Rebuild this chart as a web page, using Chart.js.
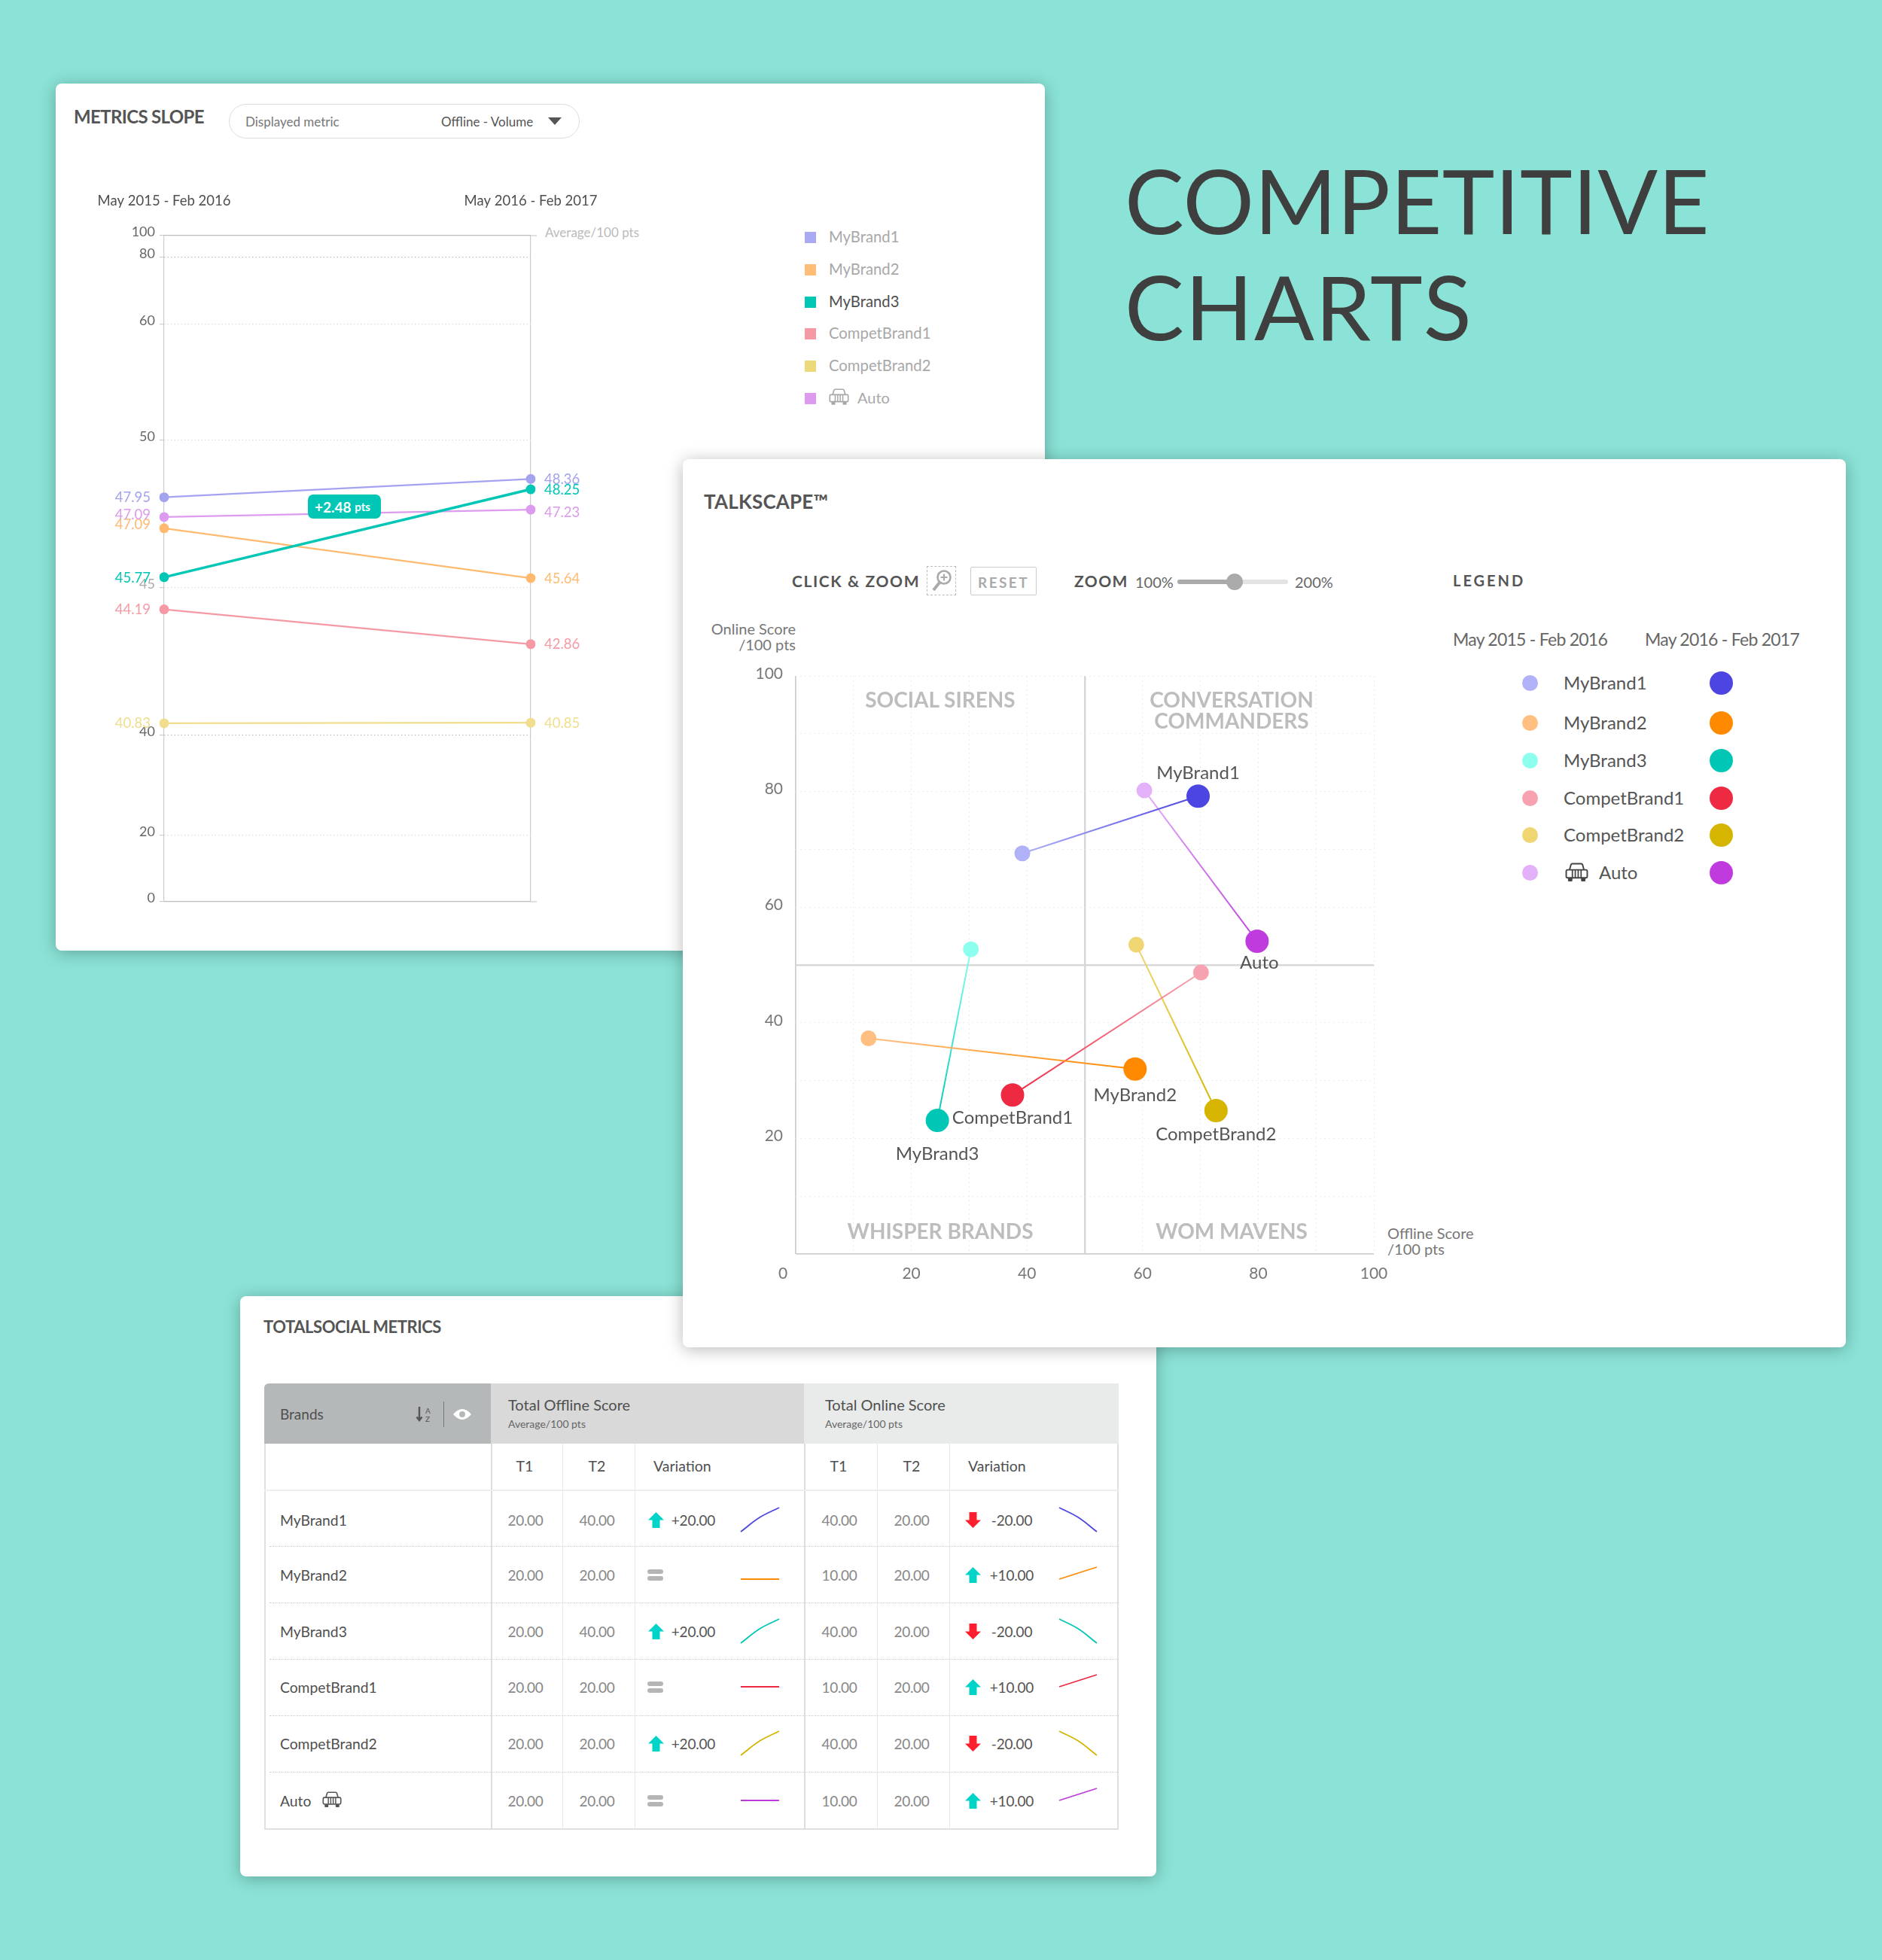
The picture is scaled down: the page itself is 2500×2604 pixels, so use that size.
<!DOCTYPE html>
<html><head><meta charset="utf-8">
<script src="https://cdn.jsdelivr.net/npm/chart.js@4"></script>
<style>
html,body{margin:0;padding:0;background:#8ae3d6;width:2500px;height:2604px;overflow:hidden;font-family:Lato,sans-serif}
#root{position:absolute;left:0;top:0;width:2500px;height:2604px}
.abs{position:absolute;white-space:nowrap;line-height:1}
.card{position:absolute;background:#fff;border-radius:8px;box-shadow:0 3px 22px rgba(0,0,0,.28)}
canvas{position:absolute;display:block}
</style></head><body><div id="root"></div>
<script>
// ---------- DATA ----------
const brands = ['MyBrand1','MyBrand2','MyBrand3','CompetBrand1','CompetBrand2','Auto'];
const periods = ['May 2015 - Feb 2016','May 2016 - Feb 2017'];
// Metrics slope: heights read on the axis, and the figures printed beside them
const slopeT1 = [48.07,47.02,45.36,44.27,40.41,47.40];
const slopeT2 = [48.69,45.33,48.34,43.09,40.43,47.65];
const slopeT1Text = ['47.95','47.09','45.77','44.19','40.83','47.09'];
const slopeT2Text = ['48.36','45.64','48.25','42.86','40.85','47.23'];
const slopeTicks = [100,80,60,50,45,40,20,0];
const slopeTickFractions = [1,0.9672,0.8667,0.6927,0.4712,0.2497,0.0994,0];
// Talkscape
const offlineT1 = [39.2,12.6,30.3,70.1,58.9,60.3];
const onlineT1  = [69.3,37.3,52.7,48.7,53.5,80.2];
const offlineT2 = [69.6,58.7,24.5,37.5,72.7,79.8];
const onlineT2  = [79.2,32.0,23.1,27.5,24.8,54.1];
// Table
const tableOfflineT1 = ['20.00','20.00','20.00','20.00','20.00','20.00'];
const tableOfflineT2 = ['40.00','20.00','40.00','20.00','20.00','20.00'];
const tableOfflineVar = ['+20.00','=','+20.00','=','+20.00','='];
const tableOnlineT1 = ['40.00','10.00','40.00','10.00','40.00','10.00'];
const tableOnlineT2 = ['20.00','20.00','20.00','20.00','20.00','20.00'];
const tableOnlineVar = ['-20.00','+10.00','-20.00','+10.00','-20.00','+10.00'];
const sparkOffline = [[20,32,40],[20,20,20],[20,32,40],[20,20,20],[20,32,40],[20,20,20]];
const sparkOnline  = [[40,32,20],[10,15,20],[40,32,20],[10,15,20],[40,32,20],[10,15,20]];

// ---------- STYLE ----------
const lightColors = ['#b1b1f7','#ffbf80','#8cffee','#f7a2b0','#efd672','#e3b0fa'];
const darkColors  = ['#4c45e2','#ff8a00','#00c7b5','#ee2a43','#d6b500','#bf3bdd'];
const slopeColors = ['#a3a3f0','#ffba70','#00c7b5','#f59aa4','#f0de8e','#dd9bef'];
const legendSquares = ['#a9a9f4','#ffbd78','#00c7b5','#f59aa4','#ecd97c','#dd9bef'];
const FONT = 'Lato, sans-serif';
const root = document.getElementById('root');
Chart.defaults.font.family = FONT;
Chart.defaults.animation = false;
const noPad=s=>{s.paddingLeft=s.paddingRight=s.paddingTop=s.paddingBottom=0;};

function T(text,x,y,o={}){
  const d=document.createElement('div');d.className='abs';d.textContent=text;
  const a=o.anchor||'left';
  const tx=a==='left'?'0':a==='center'?'-50%':'-100%';
  d.style.cssText+=`left:${x}px;top:${y}px;transform:translate(${tx},-50%);font-size:${o.size||20}px;color:${o.color||'#555'};font-weight:${o.weight||400};letter-spacing:${o.ls||0}px`;
  root.appendChild(d);return d;
}
function box(x,y,w,h,css){const d=document.createElement('div');d.className='abs';d.style.cssText+=`left:${x}px;top:${y}px;width:${w}px;height:${h}px;${css||''}`;root.appendChild(d);return d;}
function card(x0,y0,x1,y1){const d=document.createElement('div');d.className='card';d.style.cssText+=`left:${x0}px;top:${y0}px;width:${x1-x0}px;height:${y1-y0}px`;root.appendChild(d);}
function svg(x,y,w,h,vb,inner){const d=document.createElement('div');d.className='abs';d.style.cssText+=`left:${x}px;top:${y}px;width:${w}px;height:${h}px`;d.innerHTML=`<svg width="${w}" height="${h}" viewBox="${vb}" xmlns="http://www.w3.org/2000/svg" style="display:block">${inner}</svg>`;root.appendChild(d);}
function canvas(x,y,w,h){const c=document.createElement('canvas');c.width=w;c.height=h;c.style.cssText=`left:${x}px;top:${y}px;width:${w}px;height:${h}px`;root.appendChild(c);return c;}
function car(x,y,w,color){const h=w*0.84;svg(x,y,w,h,'0 0 32 27',`<g fill="none" stroke="${color}" stroke-width="2"><path d="M6 10 L8 3 Q8.5 1.5 10 1.5 H22 Q23.5 1.5 24 3 L26 10"/><rect x="1.5" y="10" width="29" height="11" rx="2"/><path d="M10 10v11M14 10v11M18 10v11M22 10v11" stroke-width="1.8"/></g><rect x="4" y="21" width="6" height="5" rx="1" fill="${color}"/><rect x="22" y="21" width="6" height="5" rx="1" fill="${color}"/>`);}

// Piecewise axis of the slope chart (its ticks are not evenly spaced)
class PiecewiseScale extends Chart.LinearScale{
  static id='piecewise';
  static defaults=Chart.LinearScale.defaults;
  buildTicks(){return slopeTicks.map(v=>({value:v}));}
  _frac(v){
    const vs=[...slopeTicks].reverse(),fs=[...slopeTickFractions].reverse();
    for(let i=1;i<vs.length;i++){ if(v<=vs[i]) return fs[i-1]+(v-vs[i-1])/(vs[i]-vs[i-1])*(fs[i]-fs[i-1]); }
    return 1;
  }
  getPixelForValue(v){return this.getPixelForDecimal(this._frac(v));}
  getValueForPixel(p){return this.getDecimalForPixel(p)*100;}
}
Chart.register(PiecewiseScale);

// ---------- TITLE ----------
T('COMPETITIVE',1494,266,{size:118,color:'#3f3f3f',ls:0.3});
T('CHARTS',1494,407,{size:118,color:'#3f3f3f',ls:1.5});

// ---------- CARD 1 : METRICS SLOPE ----------
card(74,111,1388,1263);
T('METRICS SLOPE',98,155,{size:24,color:'#555',weight:700,ls:-0.65});
box(304,138,466,46,'border:1.5px solid #ddd;border-radius:23px;box-sizing:border-box');
T('Displayed metric',326,161,{size:17,color:'#777'});
T('Offline - Volume',586,161,{size:17,color:'#555'});
svg(728,156,18,10,'0 0 18 10','<path d="M0 0H18L9 10Z" fill="#555"/>');
T('Average/100 pts',724,308,{size:17,color:'#bbb'});

const slopeLabelNudgeL=[0,-5,1,0,0,-3], slopeLabelNudgeR=[0,0,0,0,0,3];
const slopeLabels={id:'slopeLabels',afterDatasetsDraw(ch){
  const c=ch.ctx,y=ch.scales.y,x=ch.scales.x;
  c.save();c.font='18.5px '+FONT;c.textBaseline='middle';
  brands.forEach((b,i)=>{
    c.fillStyle=slopeColors[i];
    c.textAlign='right';c.fillText(slopeT1Text[i],x.getPixelForValue(0)-18,y.getPixelForValue(slopeT1[i])+slopeLabelNudgeL[i]+0.5);
    c.textAlign='left';c.fillText(slopeT2Text[i],x.getPixelForValue(1)+18,y.getPixelForValue(slopeT2[i])+slopeLabelNudgeR[i]+0.5);
  });
  c.strokeStyle='#ccc';c.lineWidth=1.2;
  [100,0].forEach(v=>{const p=y.getPixelForValue(v);c.beginPath();c.moveTo(ch.chartArea.right,p);c.lineTo(ch.chartArea.right+8,p);c.stroke();});
  c.restore();
}};
new Chart(canvas(90,225,720,990),{
  type:'line',
  data:{labels:periods,datasets:brands.map((b,i)=>({label:b,data:[slopeT1[i],slopeT2[i]],borderColor:slopeColors[i],backgroundColor:slopeColors[i],
    borderWidth:i===2?3.5:2.2,pointRadius:6.5,pointBorderWidth:0,pointBackgroundColor:slopeColors[i],tension:0,fill:false,order:i===2?0:1}))},
  options:{responsive:false,maintainAspectRatio:false,
    layout:{autoPadding:false,padding:{right:105,bottom:17}},
    plugins:{legend:{display:false},tooltip:{enabled:false}},
    scales:{
      x:{type:'category',position:'top',offset:false,afterFit(s){s.height=88;noPad(s);},
        border:{display:false},
        grid:{color:'#ccc',lineWidth:1.2,drawTicks:false},
        ticks:{color:'#4f4f4f',font:{size:18.5},padding:35,maxRotation:0,autoSkip:false}},
      y:{type:'piecewise',min:0,max:100,afterFit(s){s.width=128;noPad(s);},
        border:{display:false,dash:c=>(c.tick&&(c.tick.value===100||c.tick.value===0))?[]:[1.5,3]},
        grid:{color:c=>([100,0,80,40].includes(c.tick&&c.tick.value))?'#bdbdbd':'#dedede',lineWidth:1.2,tickLength:6,tickColor:'#ccc',
              drawTicks:true},
        ticks:{callback:v=>String(v),autoSkip:false,padding:6,labelOffset:-5,font:{size:18},color:c=>c.tick.value===45?'#aaa':'#666'}}
    }},
  plugins:[slopeLabels]
});
// badge
box(409,657,97,32,'background:#00c7b5;border-radius:7px');
(function(){const d=T('+2.48 ',418,673,{size:19,color:'#fff',weight:700});
  const s=document.createElement('span');s.textContent='pts';s.style.cssText='font-size:15px;position:relative;top:-2px';d.appendChild(s);})();
// legend of the slope chart
const slopeLegendY=[314,357,400,442,485,528];
brands.forEach((b,i)=>{
  box(1069,slopeLegendY[i]-6.5,15,15,`background:${legendSquares[i]}`);
  const col=i===2?'#4f4f4f':'#a8a8a8';
  if(b==='Auto'){car(1101,slopeLegendY[i]-12,27,'#a8a8a8');T(b,1139,slopeLegendY[i],{size:20,color:col});}
  else T(b,1101,slopeLegendY[i],{size:20.3,color:col});
});

// ---------- CARD 3 : TABLE ----------
card(319,1722,1536,2493);
T('TOTALSOCIAL METRICS',350,1763,{size:22,color:'#555',weight:700,ls:-0.45});
box(351,1838,301,80,'background:#b5b8b9;border-top-left-radius:6px');
box(652,1838,416,80,'background:#d9d9d9');
box(1068,1838,418,80,'background:#e9ebea');
T('Brands',372,1878,{size:19,color:'#4f4f4f'});
svg(552,1868,22,22,'0 0 22 22','<path d="M5 1v17M1.5 14.5L5 19l3.5-4.5" stroke="#555" stroke-width="2.4" fill="none"/><text x="13" y="10" font-size="10" fill="#555" font-family="Lato">A</text><text x="13" y="21" font-size="10" fill="#555" font-family="Lato">Z</text>');
box(589,1862,1,34,'background:#777');
svg(602,1871,24,16,'0 0 24 16','<path d="M0 8Q12 -6 24 8Q12 22 0 8Z" fill="#fff"/><circle cx="12" cy="8" r="4" fill="#b5b8b9"/>');
T('Total Offline Score',675,1866,{size:20,color:'#4f4f4f'});
T('Average/100 pts',675,1892,{size:14,color:'#666'});
T('Total Online Score',1096,1866,{size:20,color:'#4f4f4f'});
T('Average/100 pts',1096,1892,{size:14,color:'#666'});
box(351,1918,1135,513,'border:2px solid #e0e0e0;border-top:none;box-sizing:border-box');
[[652,2,'#ddd'],[747,1,'#e8e8e8'],[843,1,'#e8e8e8'],[1068,2,'#ddd'],[1165,1,'#e8e8e8'],[1261,1,'#e8e8e8']].forEach(a=>box(a[0],1918,a[1],513,`background:${a[2]}`));
box(351,1979,1135,2,'background:#eee');
[2054,2129,2204,2279,2354].forEach(y=>box(358,y,1128,0,'border-top:1.5px dotted #ccc'));
[['T1',697],['T2',793],['Variation',868,'left'],['T1',1114],['T2',1211],['Variation',1286,'left']].forEach(a=>T(a[0],a[1],1948,{size:19.5,color:'#4f4f4f',anchor:a[2]||'center'}));
const rowY=[2019,2092,2167,2241,2316,2392];
const sparkCenterOff=[30,23.75,30,20,30,20], sparkCenterOn=[30,13.75,30,10,30,10];
function arrow(x,y,up,c){svg(x-10.5,y-10.5,21,21,'0 0 21 21',up?`<path d="M10.5 0L21 10.5H15.5V21H5.5V10.5H0Z" fill="${c}"/>`:`<path d="M10.5 21L21 10.5H15.5V0H5.5V10.5H0Z" fill="${c}"/>`);}
function variation(txt,ax,tx,y){
  if(txt==='='){box(ax-11,y-7,21,5.5,'background:#b5b5b5;border-radius:3px');box(ax-11,y+2,21,5.5,'background:#b5b5b5;border-radius:3px');return;}
  const up=txt[0]==='+';arrow(ax,y,up,up?'#00d3c8':'#ff1e2d');
  T(txt,tx,y,{size:19,color:'#555',anchor:'center',ls:-0.2});
}
function spark(x0,x1,cy,vals,center,color){
  const pad=3,halfH=22;
  new Chart(canvas(x0-pad,cy-halfH,x1-x0+2*pad,halfH*2),{type:'line',
    data:{labels:['T1','','T2'],datasets:[{data:vals,borderColor:color,borderWidth:1.8,pointRadius:0,tension:0.4,fill:false}]},
    options:{responsive:false,maintainAspectRatio:false,layout:{autoPadding:false,padding:{left:pad,right:pad}},plugins:{legend:{display:false},tooltip:{enabled:false}},
      scales:{x:{display:false},y:{display:false,min:center-halfH/1.6,max:center+halfH/1.6}}}});
}
brands.forEach((b,i)=>{
  const y=rowY[i];
  T(b,372,y+0.5,{size:19.3,color:'#4f4f4f'});
  if(b==='Auto')car(428,y-12,26,'#555');
  T(tableOfflineT1[i],698,y,{size:19,color:'#888',anchor:'center',ls:-0.3});
  T(tableOfflineT2[i],793,y,{size:19,color:'#888',anchor:'center',ls:-0.3});
  variation(tableOfflineVar[i],871,921,y);
  spark(984,1035,y,sparkOffline[i],sparkCenterOff[i],darkColors[i]);
  T(tableOnlineT1[i],1115,y,{size:19,color:'#888',anchor:'center',ls:-0.3});
  T(tableOnlineT2[i],1211,y,{size:19,color:'#888',anchor:'center',ls:-0.3});
  variation(tableOnlineVar[i],1292,1344,y);
  spark(1407,1457,y,sparkOnline[i],sparkCenterOn[i],darkColors[i]);
});

// ---------- CARD 2 : TALKSCAPE ----------
card(907,610,2452,1790);
T('TALKSCAPE™',935,666,{size:26,color:'#555',weight:700,ls:0.2});
T('CLICK & ZOOM',1052,771,{size:21,color:'#555',weight:700,ls:1.6});
box(1231,752,39,39,'border:1px dashed #bbb;box-sizing:border-box');
svg(1238,757,26,29,'0 0 26 29','<circle cx="16" cy="10" r="8.5" fill="none" stroke="#aaa" stroke-width="2.6"/><path d="M10 17L2 27" stroke="#aaa" stroke-width="4"/><path d="M16 5.5v9M11.5 10h9" stroke="#aaa" stroke-width="2.2"/>');
box(1289,753,88,38,'border:1.5px solid #ccc;box-sizing:border-box;border-radius:2px');
T('RESET',1333,773,{size:19,color:'#aaa',weight:700,ls:2.4,anchor:'center'});
T('ZOOM',1427,771,{size:21,color:'#555',weight:700,ls:1.4});
T('100%',1508,773,{size:20,color:'#666'});
box(1564,770,147,6,'background:#e3e3e3;border-radius:3px');
box(1564,770,76,6,'background:#aaa;border-radius:3px');
box(1629,762,22,22,'background:#aaa;border-radius:50%');
T('200%',1720,773,{size:20,color:'#666'});
T('LEGEND',1930,771,{size:20,color:'#555',weight:700,ls:3});
T('Online Score',1057,835,{size:20,color:'#777',anchor:'right'});
T('/100 pts',1057,856,{size:20,color:'#777',anchor:'right'});
T('Offline Score',1843,1638,{size:20,color:'#777'});
T('/100 pts',1843,1659,{size:20,color:'#777'});
T(periods[0],1930,849,{size:23,color:'#666',ls:-0.75});
T(periods[1],2185,849,{size:23,color:'#666',ls:-0.75});
const talkLegendY=[907,960,1010,1060,1109,1159];
brands.forEach((b,i)=>{
  const y=talkLegendY[i];
  box(2021.5,y-10.5,21,21,`background:${lightColors[i]};border-radius:50%`);
  box(2270.5,y-15.5,31,31,`background:${darkColors[i]};border-radius:50%`);
  if(b==='Auto'){car(2079,y-13,31,'#444');T(b,2124,y,{size:24,color:'#555'});}
  else T(b,2077,y,{size:24,color:'#555'});
});

const pointLabelOffset=[[0,-30],[0,35],[0,45],[0,30],[0,32],[3,29]]; // label offset from the T2 point
const talkLabels={id:'talkLabels',afterDatasetsDraw(ch){
  const c=ch.ctx;c.save();c.font='24px '+FONT;c.fillStyle='#555';c.textAlign='center';c.textBaseline='middle';
  brands.forEach((b,i)=>{
    const x=ch.scales.x.getPixelForValue(offlineT2[i])+pointLabelOffset[i][0];
    const y=ch.scales.y.getPixelForValue(onlineT2[i])+pointLabelOffset[i][1];
    c.fillText(b,x,y);
  });c.restore();
}};
const gridDash=c=>(c.tick&&[0,50].includes(c.tick.value))?[]:[2,4];
const gridColor=c=>{const v=c.tick&&c.tick.value;return v===50?'#d8d8d8':(v===0?'#cfcfcf':'#ececec');};
const gridWidth=c=>(c.tick&&c.tick.value===50)?2.5:(c.tick&&c.tick.value===0?1.8:1);
new Chart(canvas(980,860,920,860),{
  type:'scatter',
  data:{datasets:brands.map((b,i)=>({label:b,showLine:true,
    data:[{x:offlineT1[i],y:onlineT1[i]},{x:offlineT2[i],y:onlineT2[i]}],
    borderWidth:2,tension:0,
    borderColor(ctx){
      const s=ctx.chart.scales;if(!s.x||!s.y)return darkColors[i];
      const p=[s.x.getPixelForValue(offlineT1[i]),s.y.getPixelForValue(onlineT1[i]),s.x.getPixelForValue(offlineT2[i]),s.y.getPixelForValue(onlineT2[i])];
      if(!p.every(Number.isFinite))return darkColors[i];
      const g=ctx.chart.ctx.createLinearGradient(p[0],p[1],p[2],p[3]);
      g.addColorStop(0,lightColors[i]);g.addColorStop(1,darkColors[i]);return g;
    },
    pointBackgroundColor:[lightColors[i],darkColors[i]],pointBorderWidth:0,pointRadius:[10.5,15.5],pointHoverRadius:[10.5,15.5]}))},
  options:{responsive:false,maintainAspectRatio:false,
    layout:{autoPadding:false,padding:{top:38,right:75}},
    plugins:{legend:{display:false},tooltip:{enabled:false}},
    scales:{
      x:{type:'linear',min:0,max:100,afterFit(s){s.height=54;noPad(s);},
        border:{display:false,dash:gridDash},
        grid:{color:gridColor,lineWidth:gridWidth,drawTicks:false},
        ticks:{stepSize:10,autoSkip:false,maxRotation:0,padding:14,font:{size:21},color:'#777',callback:v=>(v%20===0&&v!==0)?String(v):''}},
      y:{type:'linear',min:0,max:100,afterFit(s){s.width=77;noPad(s);},
        border:{display:false,dash:gridDash},
        grid:{color:gridColor,lineWidth:gridWidth,drawTicks:false},
        ticks:{stepSize:10,autoSkip:false,padding:17,labelOffset:-3,font:{size:21},color:'#777',callback:v=>(v%20===0&&v!==0)?String(v):''}}
    }},
  plugins:[talkLabels]
});
T('0',1040,1690,{size:21,color:'#777',anchor:'center'});
[['SOCIAL SIRENS',1249,929],['CONVERSATION',1636,929],['COMMANDERS',1636,957],['WHISPER BRANDS',1249,1635],['WOM MAVENS',1636,1635]].forEach(a=>T(a[0],a[1],a[2],{size:28,color:'#bdbdbd',weight:700,anchor:'center'}));
</script></body></html>
